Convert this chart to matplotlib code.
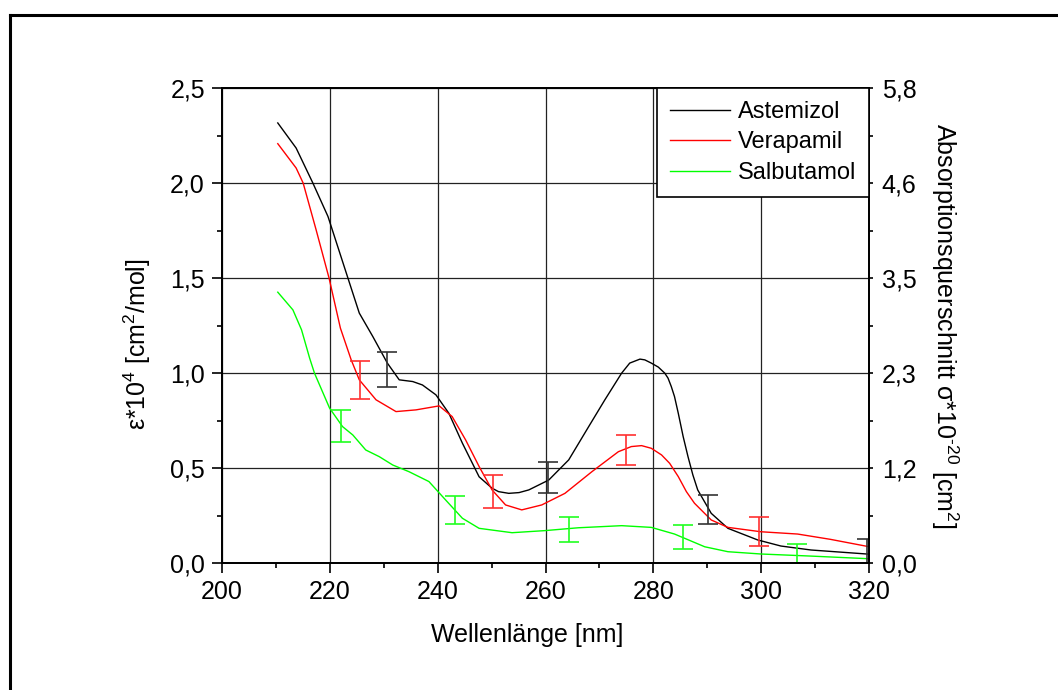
import matplotlib
matplotlib.use("Agg")
from matplotlib import pyplot as plt
from matplotlib.lines import Line2D
from matplotlib.ticker import MultipleLocator, FixedLocator, FuncFormatter

plt.rcParams['font.family'] = ['Liberation Sans', 'DejaVu Sans']
plt.rcParams['mathtext.fontset'] = 'custom'
plt.rcParams['mathtext.rm'] = 'Liberation Sans'
plt.rcParams['mathtext.it'] = 'Liberation Sans'
plt.rcParams['mathtext.default'] = 'regular'

# Kurven
ast_x = [210.4, 213.8, 216.9, 219.7, 223.1, 225.5, 228.0, 230.7, 232.9, 235.4, 237.2, 239.7,
         242.1, 244.6, 247.7, 250.1, 251.3, 253.2, 255.1, 256.9, 260.6, 264.3, 268.0, 271.0,
         274.1, 275.6, 277.5, 278.4, 279.6, 280.9, 282.1, 282.7, 283.3, 283.9, 284.6, 285.5,
         286.4, 287.3, 288.2, 290.7, 293.8, 299.3, 303.6, 309.2, 320.0]
ast_y = [2.316, 2.184, 2.0, 1.824, 1.526, 1.316, 1.193, 1.053, 0.965, 0.956, 0.938, 0.886,
         0.789, 0.632, 0.455, 0.395, 0.377, 0.368, 0.372, 0.386, 0.438, 0.544, 0.719, 0.86,
         1.0, 1.053, 1.074, 1.07, 1.053, 1.032, 1.0, 0.974, 0.93, 0.877, 0.789, 0.667,
         0.561, 0.465, 0.386, 0.263, 0.184, 0.123, 0.091, 0.070, 0.048]

ver_x = [210.4, 213.8, 215.1, 217.5, 219.9, 222.0, 224.0, 225.5, 228.6, 232.3, 236.0, 240.3,
         242.7, 245.2, 247.7, 250.1, 252.6, 255.6, 259.3, 263.6, 268.6, 273.5, 275.9, 277.8,
         279.6, 281.5, 283.0, 284.6, 286.1, 287.6, 290.7, 293.8, 299.9, 306.7, 312.8, 320.0]
ver_y = [2.207, 2.079, 2.0, 1.754, 1.5, 1.237, 1.07, 0.965, 0.86, 0.798, 0.807, 0.828,
         0.772, 0.649, 0.509, 0.386, 0.307, 0.281, 0.307, 0.368, 0.482, 0.587, 0.614, 0.619,
         0.605, 0.57, 0.526, 0.456, 0.377, 0.316, 0.228, 0.189, 0.166, 0.154, 0.126, 0.087]

sal_x = [210.4, 213.2, 214.8, 216.3, 217.2, 220.0, 222.4, 224.3, 226.7, 229.2, 231.7, 234.7,
         238.4, 241.5, 244.6, 247.7, 253.8, 259.9, 266.1, 274.1, 279.6, 283.9, 289.5, 293.8,
         299.9, 309.2, 320.0]
sal_y = [1.426, 1.333, 1.228, 1.079, 1.0, 0.816, 0.719, 0.675, 0.596, 0.561, 0.517, 0.482,
         0.43, 0.333, 0.237, 0.184, 0.161, 0.172, 0.187, 0.198, 0.189, 0.154, 0.087, 0.061,
         0.049, 0.038, 0.024]

# Fehlerbalken
ast_ex = [230.7, 260.4, 290.1, 319.5]
ast_ey = [1.02, 0.452, 0.283, 0.05]
ast_err = [0.094, 0.082, 0.076, 0.08]

ver_ex = [225.7, 250.2, 274.9, 299.6]
ver_ey = [0.966, 0.377, 0.596, 0.168]
ver_err = [0.1, 0.088, 0.079, 0.077]

sal_ex = [222.1, 243.2, 264.3, 285.4, 306.6]
sal_ey = [0.722, 0.28, 0.18, 0.138, 0.05]
sal_err = [0.083, 0.073, 0.066, 0.062, 0.05]

# Umrechnung linke -> rechte Achse
faktor = 5.8 / 2.5
rechts_labels = ["0,0", "1,2", "2,3", "3,5", "4,6", "5,8"]

fs = 18

fig = plt.figure(figsize=(10.58, 6.9), dpi=100)
ax = fig.add_axes([0.2095, 0.1836, 0.6122, 0.6889])

ax.plot(ast_x, ast_y, color='black', lw=1.0, label='Astemizol')
ax.plot(ver_x, ver_y, color='#ff0000', lw=1.0, label='Verapamil')
ax.plot(sal_x, sal_y, color='#00ff00', lw=1.0, label='Salbutamol')

ax.errorbar(ast_ex, ast_ey, yerr=ast_err, fmt='none', ecolor='#333333', elinewidth=1.2, capsize=7, capthick=1.2)
ax.errorbar(ver_ex, ver_ey, yerr=ver_err, fmt='none', ecolor='#ff3030', elinewidth=1.2, capsize=7, capthick=1.2)
ax.errorbar(sal_ex, sal_ey, yerr=sal_err, fmt='none', ecolor='#20ff20', elinewidth=1.2, capsize=7, capthick=1.2)

ax.set_xlim(200, 320)
ax.set_ylim(0, 2.5)
ax.xaxis.set_major_locator(MultipleLocator(20))
ax.xaxis.set_minor_locator(MultipleLocator(10))
ax.yaxis.set_major_locator(MultipleLocator(0.5))
ax.yaxis.set_minor_locator(MultipleLocator(0.25))
ax.yaxis.set_major_formatter(FuncFormatter(lambda v, p: f"{v:.1f}".replace('.', ',')))

ax.grid(True, which='major', color='#222222', lw=0.9)
ax.set_axisbelow(True)
for s in ax.spines.values():
    s.set_linewidth(1.3)

ax.tick_params(which='major', direction='out', length=7, width=1.2, labelsize=fs, pad=5)
ax.tick_params(which='minor', direction='out', length=3.5, width=1.2)

ax.set_xlabel("Wellenlänge [nm]", fontsize=fs)
ax.xaxis.set_label_coords(0.471, -0.125)
ax.set_ylabel("ε*10$^4$ [cm$^2$/mol]", fontsize=fs)
ax.yaxis.set_label_coords(-0.106, 0.46)

ax2 = ax.twinx()
ax2.set_ylim(0, 2.5 * faktor)
ax2.yaxis.set_major_locator(FixedLocator([v * 0.5 * faktor for v in range(6)]))
ax2.yaxis.set_minor_locator(FixedLocator([(v + 0.5) * 0.5 * faktor for v in range(5)]))
ax2.set_yticklabels(rechts_labels)
ax2.tick_params(which='major', direction='out', length=3, width=1.2, labelsize=fs, pad=6)
ax2.tick_params(which='minor', direction='out', length=3, width=1.2)
ax2.set_ylabel("Absorptionsquerschnitt σ*10$^{\u2010 20}$ [cm$^2$]", fontsize=fs, rotation=270)
ax2.yaxis.set_label_coords(1.140, 0.5)
for s in ax2.spines.values():
    s.set_linewidth(1.3)

leg = ax2.legend(handles=ax.get_lines(), labels=['Astemizol', 'Verapamil', 'Salbutamol'],
                 loc='upper right', borderaxespad=0, fancybox=False, framealpha=1,
                 edgecolor='black', fontsize=17, handlelength=2.55, handletextpad=0.35,
                 labelspacing=0.36, borderpad=0.55)
leg.get_frame().set_linewidth(1.2)

# Rahmen oben/links
fig.add_artist(Line2D([10 / 1058, 1.0], [1 - 15 / 690, 1 - 15 / 690], color='black', lw=2.2))
fig.add_artist(Line2D([10 / 1058, 10 / 1058], [0.0, 1 - 15 / 690], color='black', lw=2.2))

fig.savefig("out.png", dpi=100)
